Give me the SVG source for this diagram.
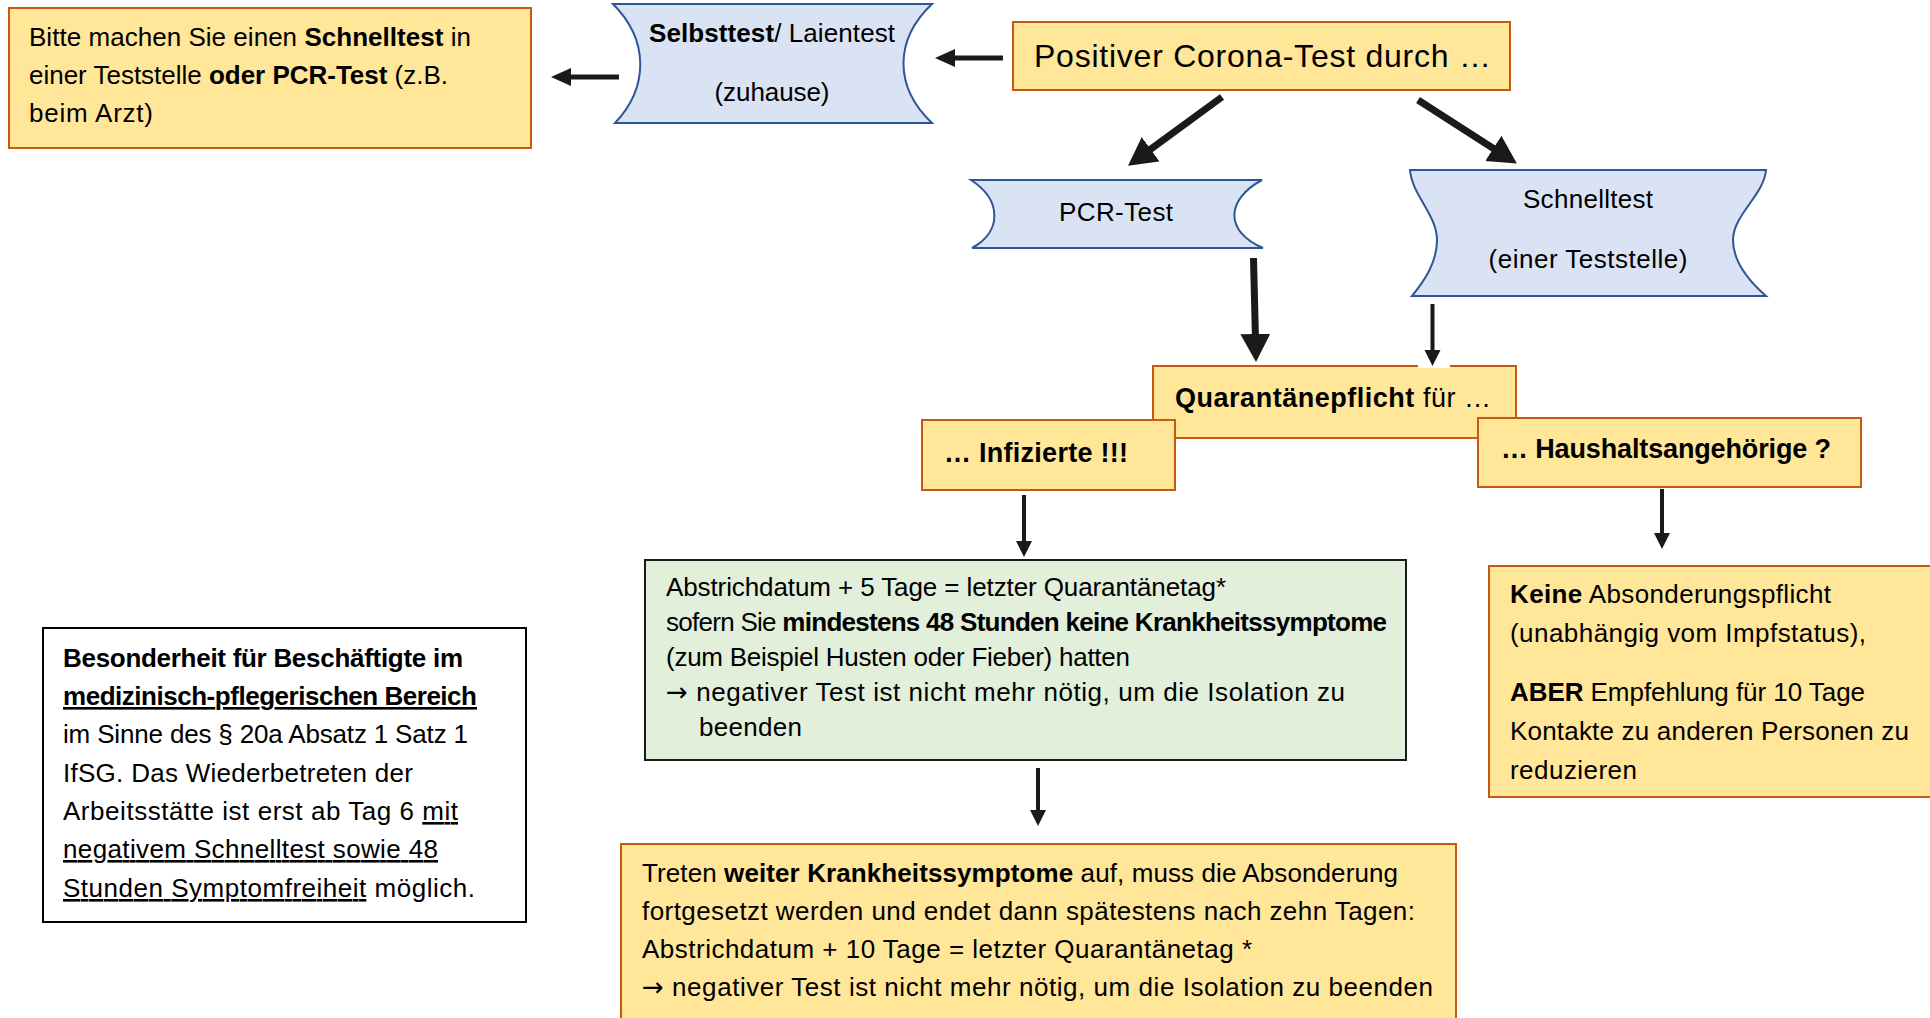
<svg xmlns="http://www.w3.org/2000/svg" width="1930" height="1018" viewBox="0 0 1930 1018">
<style>
.t{font-family:"Liberation Sans",Arial,sans-serif;font-size:26px;fill:#000}
.b{font-weight:bold}
.u{text-decoration:underline}
.ar{font-family:"DejaVu Sans",sans-serif}
.yel{fill:#FFE699;stroke:#C55A11;stroke-width:2}
.blue{fill:#DAE3F3;stroke:#2F5597;stroke-width:2}
.green{fill:#E2EFDA;stroke:#1a1a1a;stroke-width:2}
.note{fill:#fff;stroke:#000;stroke-width:2}
.c{stroke:#1a1a1a;fill:none}
.w7{stroke-width:7}
.w5{stroke-width:5}
.w4{stroke-width:4}
</style>
<defs>
<marker id="ahBig" markerUnits="userSpaceOnUse" markerWidth="32" markerHeight="32" refX="2" refY="15" orient="auto"><path d="M0,0 L28,15 L0,30 Z" fill="#1a1a1a"/></marker>
<marker id="ahMid" markerUnits="userSpaceOnUse" markerWidth="24" markerHeight="20" refX="2" refY="9" orient="auto"><path d="M0,0 L20,9 L0,18 Z" fill="#1a1a1a"/></marker>
<marker id="ahSm" markerUnits="userSpaceOnUse" markerWidth="20" markerHeight="18" refX="2" refY="8" orient="auto"><path d="M0,0 L16,8 L0,16 Z" fill="#1a1a1a"/></marker>
</defs>
<rect width="1930" height="1018" fill="#fff"/>

<g id="n-left">
<rect class="yel" x="9" y="8" width="522" height="140"/>
<text class="t" x="29" y="46" textLength="442" lengthAdjust="spacing">Bitte machen Sie einen <tspan class="b">Schnelltest</tspan> in</text>
<text class="t" x="29" y="84" textLength="419" lengthAdjust="spacing">einer Teststelle <tspan class="b">oder PCR-Test</tspan> (z.B.</text>
<text class="t" x="29" y="122" textLength="124" lengthAdjust="spacing">beim Arzt)</text>
</g>

<g id="n-selbsttest">
<path class="blue" d="M613,4 L932,4 C894,40 894,87 932,123 L615,123 C649,87 649,40 613,4 Z"/>
<text class="t" x="772" y="42" text-anchor="middle" textLength="246" lengthAdjust="spacing"><tspan class="b">Selbsttest</tspan>/ Laientest</text>
<text class="t" x="772" y="101" text-anchor="middle" textLength="115" lengthAdjust="spacing">(zuhause)</text>
</g>

<g id="n-positive">
<rect class="yel" x="1013" y="22" width="497" height="68"/>
<text class="t" x="1034" y="67" style="font-size:32px" textLength="457" lengthAdjust="spacing">Positiver Corona-Test durch …</text>
</g>

<g id="n-pcr">
<path class="blue" d="M971,180 L1262,180 C1225,200 1225,232 1263,248 L972,248 C1002,232 1002,200 971,180 Z"/>
<text class="t" x="1116" y="221" text-anchor="middle" textLength="114" lengthAdjust="spacing">PCR-Test</text>
</g>

<g id="n-schnelltest">
<path class="blue" d="M1410,170 L1766,170 C1764,195 1733,215 1733,240 C1733,262 1750,282 1766,296 L1412,296 C1425,280 1437,262 1437,240 C1437,215 1412,195 1410,170 Z"/>
<text class="t" x="1588" y="208" text-anchor="middle" textLength="130" lengthAdjust="spacing">Schnelltest</text>
<text class="t" x="1588" y="268" text-anchor="middle" textLength="199" lengthAdjust="spacing">(einer Teststelle)</text>
</g>

<g id="n-quarantaene">
<rect class="yel" x="1153" y="366" width="363" height="72"/>
<text class="t" x="1175" y="407" style="font-size:27px" textLength="316" lengthAdjust="spacing"><tspan class="b">Quarantänepflicht</tspan> für …</text>
</g>

<g id="n-infizierte">
<rect class="yel" x="922" y="420" width="253" height="70"/>
<text class="t b" x="944" y="462" style="font-size:27px" textLength="184" lengthAdjust="spacing">… Infizierte !!!</text>
</g>

<g id="n-haushalt">
<rect class="yel" x="1478" y="418" width="383" height="69"/>
<text class="t b" x="1501" y="458" style="font-size:27px" textLength="330" lengthAdjust="spacing">… Haushaltsangehörige ?</text>
</g>

<g id="n-green">
<rect class="green" x="645" y="560" width="761" height="200"/>
<text class="t" x="666" y="596" textLength="560" lengthAdjust="spacing">Abstrichdatum + 5 Tage = letzter Quarantänetag*</text>
<text class="t" x="666" y="631" textLength="721" lengthAdjust="spacing">sofern Sie <tspan class="b">mindestens 48 Stunden keine Krankheitssymptome</tspan></text>
<text class="t" x="666" y="666" textLength="464" lengthAdjust="spacing">(zum Beispiel Husten oder Fieber) hatten</text>
<text class="t" x="666" y="701" textLength="679" lengthAdjust="spacing"><tspan class="ar">→</tspan> negativer Test ist nicht mehr nötig, um die Isolation zu</text>
<text class="t" x="699" y="736" textLength="103" lengthAdjust="spacing">beenden</text>
</g>

<g id="n-bottom">
<rect class="yel" x="621" y="844" width="835" height="200"/>
<text class="t" x="642" y="882" textLength="756" lengthAdjust="spacing">Treten <tspan class="b">weiter Krankheitssymptome</tspan> auf, muss die Absonderung</text>
<text class="t" x="642" y="920" textLength="773" lengthAdjust="spacing">fortgesetzt werden und endet dann spätestens nach zehn Tagen:</text>
<text class="t" x="642" y="958" textLength="610" lengthAdjust="spacing">Abstrichdatum + 10 Tage = letzter Quarantänetag *</text>
<text class="t" x="642" y="996" textLength="791" lengthAdjust="spacing"><tspan class="ar">→</tspan> negativer Test ist nicht mehr nötig, um die Isolation zu beenden</text>
</g>

<g id="n-right">
<rect class="yel" x="1489" y="566" width="460" height="231"/>
<text class="t" x="1510" y="603" textLength="321" lengthAdjust="spacing"><tspan class="b">Keine</tspan> Absonderungspflicht</text>
<text class="t" x="1510" y="642" textLength="356" lengthAdjust="spacing">(unabhängig vom Impfstatus),</text>
<text class="t" x="1510" y="701" textLength="355" lengthAdjust="spacing"><tspan class="b">ABER</tspan> Empfehlung für 10 Tage</text>
<text class="t" x="1510" y="740" textLength="399" lengthAdjust="spacing">Kontakte zu anderen Personen zu</text>
<text class="t" x="1510" y="779" textLength="127" lengthAdjust="spacing">reduzieren</text>
</g>

<g id="n-note">
<rect class="note" x="43" y="628" width="483" height="294"/>
<text class="t b" x="63" y="667" textLength="400" lengthAdjust="spacing">Besonderheit für Beschäftigte im</text>
<text class="t b u" x="63" y="705" textLength="414" lengthAdjust="spacing">medizinisch-pflegerischen Bereich</text>
<text class="t" x="63" y="743" textLength="405" lengthAdjust="spacing">im Sinne des § 20a Absatz 1 Satz 1</text>
<text class="t" x="63" y="782" textLength="350" lengthAdjust="spacing">IfSG. Das Wiederbetreten der</text>
<text class="t" x="63" y="820" textLength="395" lengthAdjust="spacing">Arbeitsstätte ist erst ab Tag 6 <tspan class="u">mit</tspan></text>
<text class="t u" x="63" y="858" textLength="375" lengthAdjust="spacing">negativem Schnelltest sowie 48</text>
<text class="t" x="63" y="897" textLength="412" lengthAdjust="spacing"><tspan class="u">Stunden Symptomfreiheit</tspan> möglich.</text>
</g>

<g id="connectors">
<rect x="1418" y="363" width="32" height="5" fill="#fff"/>
<path class="c w5" d="M1003,58 L953,58" marker-end="url(#ahMid)"/>
<path class="c w5" d="M619,77 L569,77" marker-end="url(#ahMid)"/>
<path class="c w7" d="M1222,97 L1149,150.4" marker-end="url(#ahBig)"/>
<path class="c w7" d="M1418,100 L1495,149.5" marker-end="url(#ahBig)"/>
<path class="c w7" d="M1253.5,258 L1255.4,336" marker-end="url(#ahBig)"/>
<path class="c w4" d="M1432.5,304 L1432.5,352" marker-end="url(#ahSm)"/>
<path class="c w4" d="M1024,495 L1024,543" marker-end="url(#ahSm)"/>
<path class="c w4" d="M1662,489 L1662,535" marker-end="url(#ahSm)"/>
<path class="c w4" d="M1038,768 L1038,812" marker-end="url(#ahSm)"/>
</g>
</svg>
